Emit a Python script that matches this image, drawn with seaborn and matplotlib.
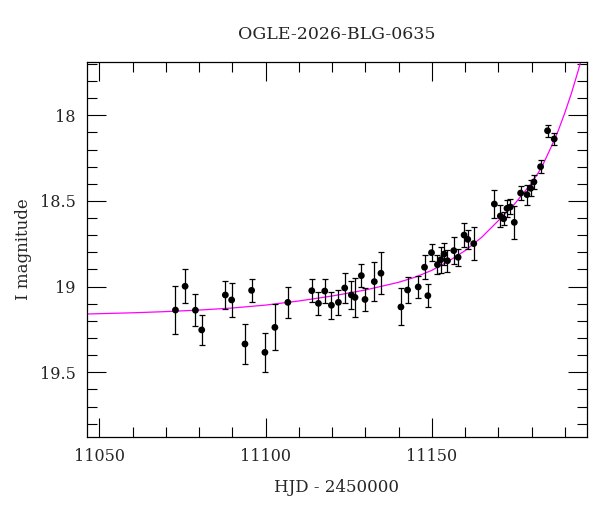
import matplotlib
matplotlib.use('Agg')
import matplotlib.pyplot as plt
from matplotlib.ticker import MultipleLocator, FormatStrFormatter
import pandas as pd
import seaborn as sns

# photometry
hjd = [11072.9, 11075.8, 11078.9, 11080.8, 11087.9, 11089.8, 11093.8, 11095.8, 11099.8, 11102.8,
       11106.7, 11113.9, 11115.9, 11117.8, 11119.8, 11121.9, 11123.8, 11125.8, 11126.9, 11128.8,
       11129.9, 11132.7, 11134.7, 11140.7, 11142.7, 11145.9, 11147.8, 11148.8, 11149.9, 11151.7,
       11152.7, 11153.7, 11154.7, 11156.6, 11157.9, 11159.7, 11160.8, 11162.6, 11168.8, 11170.6,
       11171.6, 11172.6, 11173.6, 11174.8, 11176.7, 11178.6, 11179.7, 11180.7, 11182.7, 11184.8,
       11186.8]
mag = [19.137, 18.998, 19.138, 19.253, 19.049, 19.078, 19.335, 19.022, 19.384, 19.238,
       19.092, 19.024, 19.098, 19.026, 19.109, 19.092, 19.008, 19.049, 19.063, 18.936,
       19.075, 18.971, 18.922, 19.119, 19.020, 19.002, 18.887, 19.053, 18.802, 18.872,
       18.843, 18.810, 18.849, 18.790, 18.829, 18.699, 18.724, 18.749, 18.518, 18.588,
       18.604, 18.543, 18.535, 18.625, 18.454, 18.463, 18.426, 18.389, 18.300, 18.090,
       18.138]
err = [0.142, 0.098, 0.093, 0.090, 0.079, 0.100, 0.114, 0.069, 0.112, 0.134,
       0.091, 0.067, 0.068, 0.069, 0.080, 0.074, 0.086, 0.081, 0.114, 0.069,
       0.067, 0.115, 0.123, 0.108, 0.078, 0.064, 0.071, 0.067, 0.049, 0.057,
       0.075, 0.066, 0.063, 0.078, 0.051, 0.068, 0.054, 0.095, 0.083, 0.066,
       0.039, 0.049, 0.044, 0.097, 0.042, 0.059, 0.047, 0.042, 0.039, 0.036,
       0.035]

# model curve
model_t = [11046.3, 11060, 11070, 11080, 11090, 11100, 11110, 11120, 11130, 11140,
           11145, 11150, 11155, 11160, 11165, 11170, 11175, 11180, 11183, 11186,
           11188, 11190, 11192, 11194, 11195]
model_I = [19.160, 19.153, 19.146, 19.137, 19.125, 19.108, 19.084, 19.055, 19.020, 18.975,
           18.945, 18.905, 18.852, 18.790, 18.712, 18.615, 18.515, 18.395, 18.305, 18.180,
           18.090, 17.985, 17.870, 17.740, 17.670]

df = pd.DataFrame({'hjd': hjd, 'mag': mag, 'err': err})
model = pd.DataFrame({'t': model_t, 'I': model_I})

sns.set_style('ticks')
plt.rcParams['font.family'] = ['DejaVu Serif']
plt.rcParams['mathtext.fontset'] = 'dejavuserif'

fig = plt.figure(figsize=(6, 5.12), dpi=100)
ax = fig.add_axes([0.145, 0.1465, 0.833, 0.732])

sns.lineplot(data=model, x='t', y='I', color='#ff00ff', linewidth=0.9, ax=ax, zorder=1, sort=False)
ax.errorbar(df['hjd'], df['mag'], yerr=df['err'], fmt='none', ecolor='black',
            elinewidth=0.9, capsize=2.4, capthick=0.9, zorder=2)
sns.scatterplot(data=df, x='hjd', y='mag', color='black', s=24, edgecolor='none', ax=ax, zorder=3)

ax.set_xlim(11046.3, 11196.6)
ax.set_ylim(19.878, 17.69)

ax.xaxis.set_major_locator(MultipleLocator(50))
ax.xaxis.set_minor_locator(MultipleLocator(10))
ax.yaxis.set_major_locator(MultipleLocator(0.5))
ax.yaxis.set_minor_locator(MultipleLocator(0.1))
ax.yaxis.set_major_formatter(FormatStrFormatter('%g'))

ax.tick_params(which='both', direction='in', top=True, right=True, width=0.8, color='black')
ax.tick_params(which='major', length=13.5, labelsize=11.5, pad=8)
ax.tick_params(which='minor', length=7)
for s in ax.spines.values():
    s.set_linewidth(0.9)
    s.set_color('black')

ax.set_xlabel('HJD - 2450000', fontsize=12, labelpad=10)
ax.set_ylabel('I magnitude', fontsize=12, labelpad=6)
ax.set_title('OGLE-2026-BLG-0635', fontsize=12.5, pad=17)

fig.savefig('out.png', dpi=100)
